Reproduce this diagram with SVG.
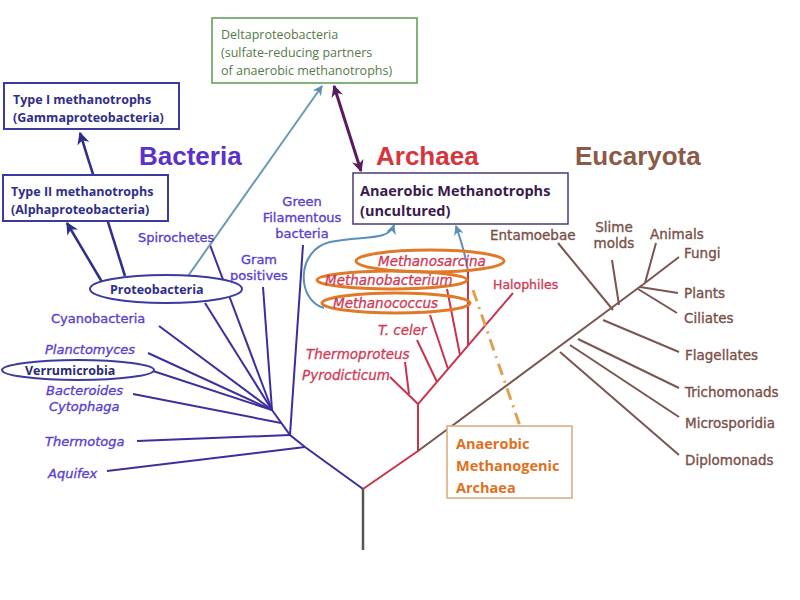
<svg xmlns="http://www.w3.org/2000/svg" width="800" height="600" viewBox="0 0 800 600">
<defs>
<style>
.bl{stroke:#3b2f9e;stroke-width:2;fill:none}
.ar{stroke:#c8344a;stroke-width:2;fill:none}
.eu{stroke:#7b5550;stroke-width:2;fill:none}
.lb{font-family:"DejaVu Sans",sans-serif;font-size:13px;fill:#5b3fcf;stroke:#5b3fcf;stroke-width:0.35}
.li{font-family:"DejaVu Sans",sans-serif;font-size:13px;font-style:italic;fill:#5b3fcf;stroke:#5b3fcf;stroke-width:0.35}
.la{font-family:"DejaVu Sans",sans-serif;font-size:13.5px;font-style:italic;fill:#d03a55;stroke:#d03a55;stroke-width:0.3}
.lh{font-family:"DejaVu Sans",sans-serif;font-size:12.5px;fill:#d03a55;stroke:#d03a55;stroke-width:0.35}
.le{font-family:"DejaVu Sans",sans-serif;font-size:13.5px;fill:#7a4f48;stroke:#7a4f48;stroke-width:0.35}
.big{font-family:"Liberation Sans",Arial,sans-serif;font-size:26px;font-weight:bold}
.bx{font-family:"Open Sans",sans-serif;font-weight:bold;font-size:12.5px;fill:#2e2e8a}
.oe{fill:none;stroke:#e07a28;stroke-width:3}
</style>
<marker id="ab" viewBox="0 0 10 10" refX="9" refY="5" markerWidth="5" markerHeight="5" orient="auto-start-reverse"><path d="M0,0 L10,5 L0,10 L3,5 z" fill="#2e2e8a"/></marker>
<marker id="ac" viewBox="0 0 10 10" refX="9" refY="5" markerWidth="5" markerHeight="5" orient="auto-start-reverse"><path d="M0,0 L10,5 L0,10 L3,5 z" fill="#5a8fb8"/></marker>
<marker id="ap" viewBox="0 0 10 10" refX="9" refY="5" markerWidth="4" markerHeight="4" orient="auto-start-reverse"><path d="M0,0 L10,5 L0,10 L3,5 z" fill="#5a1a5e"/></marker>
</defs>
<rect width="800" height="600" fill="#ffffff"/>

<g id="tree">
<line x1="363" y1="489" x2="363" y2="550" stroke="#555" stroke-width="2.5"/>
<polyline class="bl" points="363,489 305,447 290,435 272,410"/>
<line class="bl" x1="305" y1="447" x2="107" y2="471"/>
<line class="bl" x1="290" y1="435" x2="137" y2="441"/>
<line class="bl" x1="290" y1="435" x2="303" y2="245"/>
<line class="bl" x1="281" y1="423" x2="133" y2="394"/>
<line class="bl" x1="272" y1="410" x2="263" y2="287"/>
<line class="bl" x1="272" y1="410" x2="210" y2="245"/>
<line class="bl" x1="272" y1="410" x2="205" y2="303"/>
<line class="bl" x1="272" y1="410" x2="159" y2="326"/>
<line class="bl" x1="272" y1="410" x2="148" y2="353"/>
<line class="bl" x1="272" y1="410" x2="153" y2="371" stroke-width="3"/>
<polyline class="ar" points="363,489 418,451 418,404 513,293"/>
<line class="ar" x1="418" y1="404" x2="390" y2="377"/>
<line class="ar" x1="409" y1="394" x2="405" y2="362"/>
<line class="ar" x1="437" y1="382" x2="417" y2="340"/>
<line class="ar" x1="448" y1="369" x2="430" y2="315"/>
<line class="ar" x1="460" y1="355" x2="447" y2="289"/>
<line class="ar" x1="468" y1="346" x2="468" y2="272"/>
<polyline class="eu" points="418,451 645,283 679,257"/>
<line class="eu" x1="613" y1="310" x2="558" y2="243"/>
<line class="eu" x1="619" y1="305" x2="612" y2="260"/>
<line class="eu" x1="645" y1="283" x2="656" y2="243"/>
<line class="eu" x1="640" y1="287" x2="678" y2="293"/>
<line class="eu" x1="638" y1="289" x2="677" y2="313"/>
<line class="eu" x1="603" y1="320" x2="679" y2="352"/>
<line class="eu" x1="578" y1="339" x2="679" y2="388"/>
<line class="eu" x1="570" y1="345" x2="679" y2="417"/>
<line class="eu" x1="560" y1="352" x2="679" y2="455"/>
</g>

<g id="connectors">
<line x1="125" y1="276" x2="80" y2="133" stroke="#2e2e8a" stroke-width="2.5" marker-end="url(#ab)"/>
<line x1="102" y1="282" x2="67" y2="223" stroke="#2e2e8a" stroke-width="2.5" marker-end="url(#ab)"/>
<line x1="188" y1="276" x2="322" y2="86" stroke="#6a9ab4" stroke-width="2" marker-end="url(#ac)"/>
<line x1="334" y1="86" x2="361" y2="171" stroke="#5a1a5e" stroke-width="3" marker-start="url(#ap)" marker-end="url(#ap)"/>
<path d="M 324 308 C 296 300 296 250 330 242 C 362 235 388 242 394 225" fill="none" stroke="#5a8fb8" stroke-width="2" marker-end="url(#ac)"/>
<path d="M 468 272 C 466 255 460 238 456 226" fill="none" stroke="#5a8fb8" stroke-width="2" marker-end="url(#ac)"/>
<line x1="473" y1="290" x2="520" y2="426" stroke="#e0a050" stroke-width="3" stroke-dasharray="12 6 2 6"/>
</g>

<g id="type1">
<rect x="4" y="83" width="175" height="46" fill="#fff" stroke="#3a3aa0" stroke-width="2"/>
<text class="bx" x="13" y="104">Type I methanotrophs</text>
<text class="bx" x="13" y="122">(Gammaproteobacteria)</text>
</g>
<g id="type2">
<rect x="3" y="175" width="165" height="46" fill="#fff" stroke="#3a3aa0" stroke-width="2"/>
<text class="bx" x="11" y="196">Type II methanotrophs</text>
<text class="bx" x="11" y="214">(Alphaproteobacteria)</text>
</g>
<g id="delta">
<rect x="212" y="18" width="205" height="65" fill="#fff" stroke="#5a9a50" stroke-width="1.5"/>
<g font-family="'Open Sans',sans-serif" font-size="12.5px" fill="#557a48">
<text x="221" y="39">Deltaproteobacteria</text>
<text x="221" y="57">(sulfate-reducing partners</text>
<text x="221" y="75">of anaerobic methanotrophs)</text>
</g>
</g>
<g id="anmeth">
<rect x="353" y="173" width="215" height="51" fill="#fff" stroke="#4a3a7a" stroke-width="1.5"/>
<g font-family="'Open Sans',sans-serif" font-weight="bold" font-size="14.5px" fill="#3a1a4e">
<text x="360" y="196">Anaerobic Methanotrophs</text>
<text x="360" y="216">(uncultured)</text>
</g>
</g>
<g id="anmethanogen">
<rect x="447" y="426" width="125" height="72" fill="#fff" stroke="#d8a878" stroke-width="1.5"/>
<g font-family="'Open Sans',sans-serif" font-weight="bold" font-size="14.5px" fill="#e07020">
<text x="456" y="449">Anaerobic</text>
<text x="456" y="471">Methanogenic</text>
<text x="456" y="493">Archaea</text>
</g>
</g>

<g id="proteobacteria">
<ellipse cx="166" cy="289" rx="76" ry="14" fill="#fff" stroke="#3a3aa0" stroke-width="2"/>
<text class="bx" x="110" y="294">Proteobacteria</text>
</g>
<g id="verrumicrobia">
<ellipse cx="78" cy="370" rx="76" ry="10" fill="#fff" stroke="#3a3aa0" stroke-width="2"/>
<text class="bx" x="25" y="375" style="fill:#2a2a70">Verrumicrobia</text>
</g>

<g id="methanogens">
<ellipse class="oe" cx="430" cy="261" rx="74" ry="11"/>
<ellipse class="oe" cx="392" cy="280" rx="75" ry="9"/>
<ellipse class="oe" cx="396" cy="303" rx="74" ry="10"/>
<text class="la" x="378" y="266">Methanosarcina</text>
<text class="la" x="325" y="285">Methanobacterium</text>
<text class="la" x="333" y="308">Methanococcus</text>
</g>

<g id="labels">
<text class="big" x="139" y="165" fill="#5a32c8">Bacteria</text>
<text class="big" x="376" y="165" fill="#d8343c">Archaea</text>
<text class="big" x="575" y="165" fill="#8c5a48">Eucaryota</text>

<text class="lb" x="138" y="242">Spirochetes</text>
<g class="lb" text-anchor="middle">
<text x="302" y="206">Green</text>
<text x="302" y="222">Filamentous</text>
<text x="302" y="238">bacteria</text>
<text x="259" y="264">Gram</text>
<text x="259" y="280">positives</text>
</g>
<text class="lb" x="51" y="323">Cyanobacteria</text>
<text class="li" x="45" y="354">Planctomyces</text>
<text class="li" x="46" y="395">Bacteroides</text>
<text class="li" x="49" y="411">Cytophaga</text>
<text class="li" x="45" y="446">Thermotoga</text>
<text class="li" x="48" y="478">Aquifex</text>

<text class="lh" x="493" y="289">Halophiles</text>
<text class="la" x="378" y="335">T. celer</text>
<text class="la" x="306" y="359">Thermoproteus</text>
<text class="la" x="302" y="380">Pyrodicticum</text>

<text class="le" x="490" y="240">Entamoebae</text>
<text class="le" x="614" y="232" text-anchor="middle">Slime</text>
<text class="le" x="614" y="248" text-anchor="middle">molds</text>
<text class="le" x="650" y="239">Animals</text>
<text class="le" x="684" y="258">Fungi</text>
<text class="le" x="684" y="298">Plants</text>
<text class="le" x="684" y="323">Ciliates</text>
<text class="le" x="685" y="360">Flagellates</text>
<text class="le" x="685" y="397">Trichomonads</text>
<text class="le" x="685" y="428">Microsporidia</text>
<text class="le" x="685" y="465">Diplomonads</text>
</g>
</svg>
